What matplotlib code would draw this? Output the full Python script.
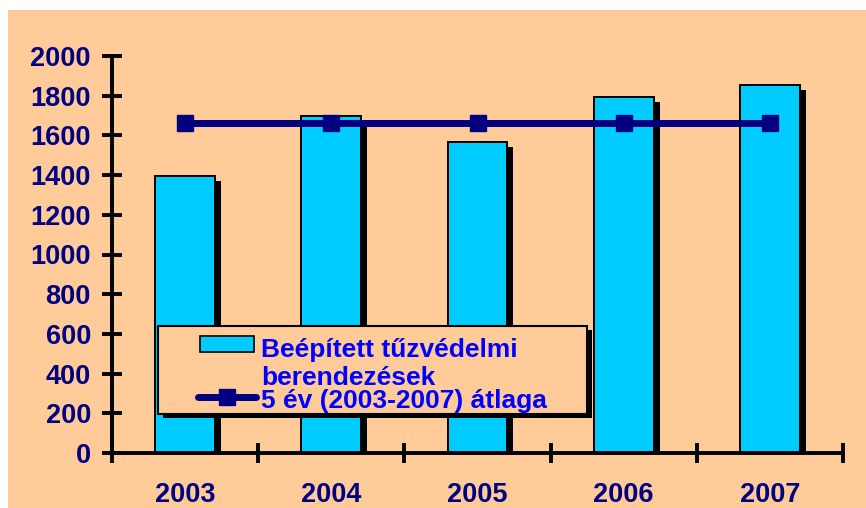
"""
Beépített tűzvédelmi berendezések 2003-2007, bar chart with 5-year average line
"""
import matplotlib
matplotlib.use('Agg')
import matplotlib.pyplot as plt
import matplotlib.patheffects as pe
from matplotlib.patches import Rectangle
from matplotlib.lines import Line2D

plt.rcParams['font.family'] = ['Liberation Sans', 'DejaVu Sans']

years = ['2003', '2004', '2005', '2006', '2007']
installed = [1395, 1698, 1567, 1793, 1854]
average = [1662, 1662, 1662, 1662, 1662]
label_bars = 'Beépített tűzvédelmi\nberendezések'
label_avg = '5 év (2003-2007) átlaga'

BG = '#FFCC99'
BAR = '#00CCFF'
NAVY = '#000080'
W, H = 866, 508


def fx(x):
    return x / W


def fy(y):
    return 1 - y / H


fig = plt.figure(figsize=(8.66, 5.08), dpi=100, facecolor='white')
fig.add_artist(Rectangle((fx(8), 0), 1 - fx(8), fy(10), transform=fig.transFigure,
                         facecolor=BG, edgecolor='none', zorder=0))

ax = fig.add_axes([fx(112), fy(453), fx(843) - fx(112), fy(56) - fy(453)])
ax.set_facecolor('none')

xs = range(len(years))
shadow = [pe.SimplePatchShadow(offset=(4.3, -3.6), shadow_rgbFace='black', alpha=1), pe.Normal()]
bars = ax.bar(xs, installed, width=0.41, color=BAR, edgecolor='black', linewidth=1.4, zorder=2)
for b in bars:
    b.set_path_effects(shadow)

ax.plot(xs, average, color=NAVY, lw=5, marker='s', markersize=12, zorder=3)

ax.set_xlim(-0.5, len(years) - 0.5)
ax.set_ylim(0, 2000)
ax.set_yticks(range(0, 2001, 200))
ax.set_xticks(list(xs))
ax.set_xticklabels(years)
ax.set_xticks([i - 0.5 for i in range(len(years) + 1)], minor=True)

for s in ['top', 'right']:
    ax.spines[s].set_visible(False)
for s in ['left', 'bottom']:
    ax.spines[s].set_linewidth(2.8)
    ax.spines[s].set_color('black')
    ax.spines[s].set_zorder(4)

ax.tick_params(axis='y', direction='inout', length=14.4, width=2.8, pad=8,
               labelsize=19.5, labelcolor=NAVY)
ax.tick_params(axis='x', which='major', length=0, pad=21, labelsize=19.5, labelcolor=NAVY)
ax.tick_params(axis='x', which='minor', direction='inout', length=14.4, width=2.8)
for lab in ax.get_xticklabels() + ax.get_yticklabels():
    lab.set_fontweight('bold')

# legend drawn by hand to keep the overlapping layout of the original
frame = Rectangle((fx(158), fy(414)), fx(587) - fx(158), fy(326) - fy(414),
                  transform=fig.transFigure, facecolor=BG, edgecolor='black',
                  linewidth=1.5, zorder=5)
frame.set_path_effects([pe.SimplePatchShadow(offset=(3.6, -3.2), shadow_rgbFace='black', alpha=1),
                        pe.Normal()])
fig.add_artist(frame)
fig.add_artist(Rectangle((fx(200), fy(352)), fx(254) - fx(200), fy(336) - fy(352),
                         transform=fig.transFigure, facecolor=BAR, edgecolor='black',
                         linewidth=1.2, zorder=6))
fig.add_artist(Line2D([fx(198), fx(256)], [fy(397), fy(397)], transform=fig.transFigure,
                      color=NAVY, lw=5, solid_capstyle='round', zorder=6))
fig.add_artist(Line2D([fx(227)], [fy(397)], transform=fig.transFigure, color=NAVY,
                      marker='s', markersize=12, zorder=7))
fig.text(fx(261), fy(385), label_bars, color='#0000FF', fontsize=19, fontweight='bold',
         va='baseline', ha='left', linespacing=1.2, zorder=7)
fig.text(fx(261), fy(408), label_avg, color='#0000FF', fontsize=19, fontweight='bold',
         va='baseline', ha='left', zorder=7)

fig.savefig('out.png', dpi=100, facecolor='white')
